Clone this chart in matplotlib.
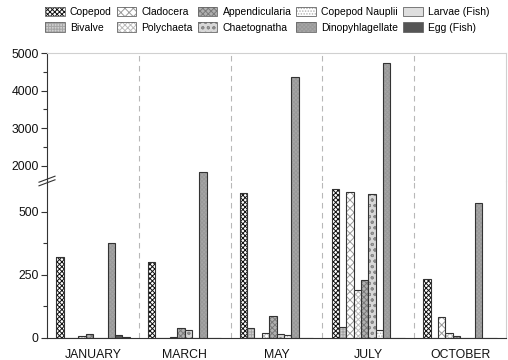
import matplotlib
matplotlib.use("Agg")
import matplotlib.pyplot as plt
from matplotlib.patches import Patch
from matplotlib.lines import Line2D
import numpy as np

plt.rcParams["font.family"] = ["Liberation Sans", "DejaVu Sans"]

months = ["JANUARY", "MARCH", "MAY", "JULY", "OCTOBER"]

# bar order inside each month group (left to right)
copepod = [320, 300, 574, 590, 235]
bivalve = [0, 0, 38, 44, 0]
cladocera = [0, 0, 0, 581, 82]
polychaeta = [8, 3, 20, 189, 19]
appendicularia = [16, 38, 89, 229, 7]
chaetognatha = [0, 30, 15, 571, 0]
copepod_nauplii = [0, 0, 11, 30, 0]
dinoflagellate = [375, 1840, 4350, 4740, 534]
egg_fish = [11, 0, 0, 0, 0]
larvae_fish = [4, 0, 0, 0, 0]

LOW_MAX = 623
HIGH_MIN = 1587
HIGH_MAX = 5000

# name, values, face, hatch, hatch colour
series = [
    ("Copepod", copepod, "white", "xxxxxxx", "#111111"),
    ("Bivalve", bivalve, "#d0d0d0", "++++++", "#a4a4a4"),
    ("Cladocera", cladocera, "white", "xxxx", "#9a9a9a"),
    ("Polychaeta", polychaeta, "white", "xxxxxx", "#bcbcbc"),
    ("Appendicularia", appendicularia, "#b0b0b0", "xxxxxx", "#7a7a7a"),
    ("Chaetognatha", chaetognatha, "#d8d8d8", "ooo", "#8a8a8a"),
    ("Copepod Nauplii", copepod_nauplii, "white", "......", "#b0b0b0"),
    ("Dinopyhlagellate", dinoflagellate, "#a6a6a6", "xxxxxxxx", "#999999"),
    ("Egg (Fish)", egg_fish, "#555555", None, None),
    ("Larvae (Fish)", larvae_fish, "#dedede", None, None),
]

fig = plt.figure(figsize=(5.08, 3.6), dpi=100)
left, right = 47 / 508, 506 / 508
bot, brk, top = 22 / 360, 179 / 360, 307 / 360
ax_lo = fig.add_axes([left, bot, right - left, brk - bot])
ax_hi = fig.add_axes([left, brk, right - left, top - brk], sharex=ax_lo)

x = np.arange(len(months))
w = 0.08
edge = "#333333"

handles = {}
plt.rcParams["hatch.linewidth"] = 0.7
for i, (name, vals, face, hatch, hcol) in enumerate(series):
    pos = x + (i - 4.5) * w
    for ax in (ax_lo, ax_hi):
        if hatch:
            ax.bar(pos, vals, w, color=face, hatch=hatch, edgecolor=hcol, linewidth=0)
            ax.bar(pos, vals, w, color="none", edgecolor=edge, linewidth=0.8)
        else:
            ax.bar(pos, vals, w, color=face, edgecolor=edge, linewidth=0.8)
    if hatch:
        h = (Patch(facecolor=face, hatch=hatch, edgecolor=hcol, linewidth=0),
             Patch(facecolor="none", edgecolor="#666666", linewidth=0.6))
    else:
        h = Patch(facecolor=face, edgecolor="#666666", linewidth=0.6)
    handles[name] = h

for ax in (ax_lo, ax_hi):
    for sep in x[:-1] + 0.5:
        ax.axvline(sep, color="#b8b8b8", linewidth=0.8, dashes=(5, 4), zorder=0)
    ax.set_xlim(-0.5, 4.5)
    ax.spines["left"].set_color(edge)
    ax.spines["right"].set_color("#d0d0d0")
    ax.tick_params(axis="y", direction="out", length=4, width=0.8, color=edge,
                   labelsize=8.8, pad=2, labelcolor="#111111")
    ax.tick_params(axis="y", which="minor", direction="out", length=3, width=0.8, color=edge)

ax_lo.set_ylim(0, LOW_MAX)
ax_lo.set_yticks([0, 250, 500])
ax_lo.set_yticks([125, 375], minor=True)
ax_lo.spines["top"].set_visible(False)
ax_lo.spines["bottom"].set_color(edge)
ax_lo.set_xticks(x)
ax_lo.set_xticklabels(months)
ax_lo.tick_params(axis="x", length=0, labelsize=8.8, pad=8, labelcolor="#111111")

ax_hi.set_ylim(HIGH_MIN, HIGH_MAX)
ax_hi.set_yticks([2000, 3000, 4000, 5000])
ax_hi.set_yticks([2500, 3500, 4500], minor=True)
ax_hi.spines["bottom"].set_visible(False)
ax_hi.spines["top"].set_color("#d0d0d0")
ax_hi.tick_params(axis="x", bottom=False, labelbottom=False)

# break marks on the y axis
for dy in (-1.8, 1.8):
    y0 = (360 - 181 + dy) / 360
    fig.add_artist(Line2D([39 / 508, 55 / 508], [y0 - 3 / 360, y0 + 3 / 360],
                          color=edge, linewidth=0.8, transform=fig.transFigure))

order = ["Copepod", "Bivalve", "Cladocera", "Polychaeta", "Appendicularia",
         "Chaetognatha", "Copepod Nauplii", "Dinopyhlagellate", "Larvae (Fish)", "Egg (Fish)"]
fig.legend([handles[n] for n in order], order, loc="upper left",
           bbox_to_anchor=(45 / 508, 1 - 7 / 360), ncol=5, frameon=False,
           fontsize=7.5, handlelength=1.9, handleheight=1.0, handletextpad=0.5,
           columnspacing=0.45, labelspacing=0.5, borderpad=0, borderaxespad=0)

fig.savefig("out.png", dpi=100)
